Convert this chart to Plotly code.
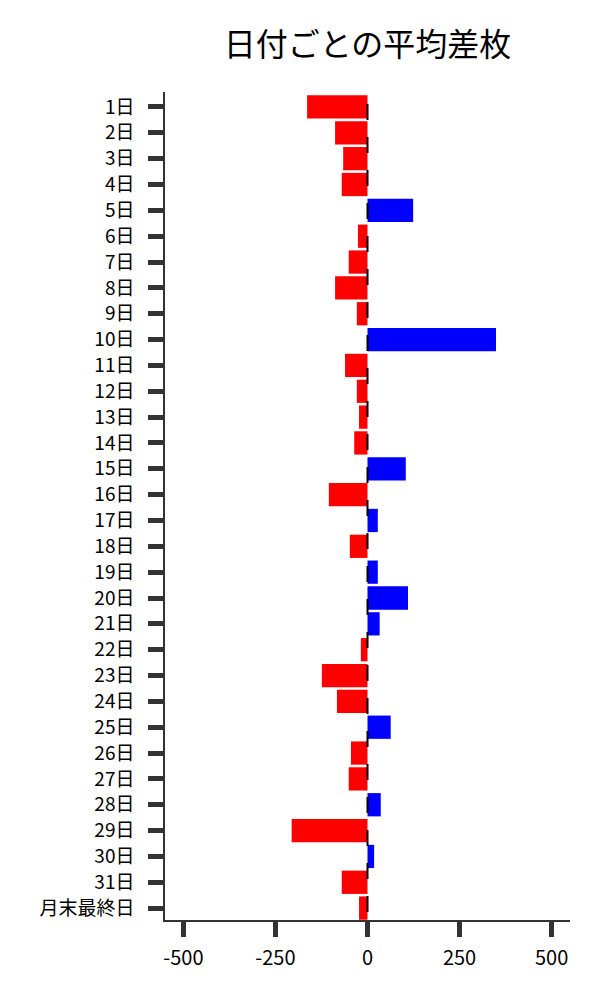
import plotly.graph_objects as go

# 日付ラベルと平均差枚
days = ["1日", "2日", "3日", "4日", "5日", "6日", "7日", "8日", "9日", "10日",
        "11日", "12日", "13日", "14日", "15日", "16日", "17日", "18日", "19日", "20日",
        "21日", "22日", "23日", "24日", "25日", "26日", "27日", "28日", "29日", "30日",
        "31日", "月末最終日"]
avg_diff = [-164, -88, -66, -70, 124, -26, -51, -88, -29, 349,
            -61, -29, -23, -36, 104, -105, 28, -48, 28, 110,
            33, -18, -124, -83, 63, -45, -51, 36, -206, 18,
            -70, -23]
x_ticks = [-500, -250, 0, 250, 500]
x_labels = ["-500", "-250", "0", "250", "500"]

colors = ["#0000ff" if v > 0 else "#ff0000" for v in avg_diff]

fig = go.Figure()

fig.add_trace(
    go.Bar(
        x=avg_diff,
        y=days,
        orientation="h",
        marker=dict(color=colors, line=dict(width=0)),
        showlegend=False,
    )
)

# 0 の位置に破線
fig.add_shape(
    type="line",
    xref="x", yref="y",
    x0=0, x1=0, y0=-0.12, y1=31.46,
    line=dict(color="black", width=2, dash="16px,17px"),
    layer="above",
)

# ページの余白 (8px) を考慮したサイズ
fig.update_layout(
    width=584,
    height=984,
    title=dict(
        text="日付ごとの平均差枚",
        x=0.5, xref="paper", xanchor="center",
        y=0.9625, yanchor="middle",
        font=dict(size=32, color="black"),
    ),
    font=dict(family="Noto Sans CJK JP", size=20, color="black"),
    plot_bgcolor="white",
    paper_bgcolor="white",
    margin=dict(l=157, r=22, t=84, b=72),
    bargap=0.1,
    showlegend=False,
)

fig.update_xaxes(
    range=[-550, 550],
    tickvals=x_ticks, ticktext=x_labels,
    ticks="outside", ticklen=15, tickwidth=5, tickcolor="#333333",
    ticklabelstandoff=4,
    showline=True, linecolor="#333333", linewidth=1.5,
    showgrid=False, zeroline=False,
)
fig.update_yaxes(
    range=[31.46, -0.58],
    categoryorder="array", categoryarray=days,
    tickfont=dict(size=19),
    ticks="outside", ticklen=15, tickwidth=5, tickcolor="#333333",
    ticklabelstandoff=10,
    showline=True, linecolor="#333333", linewidth=1.5,
    showgrid=False, zeroline=False,
)

fig.write_html("out.html")
